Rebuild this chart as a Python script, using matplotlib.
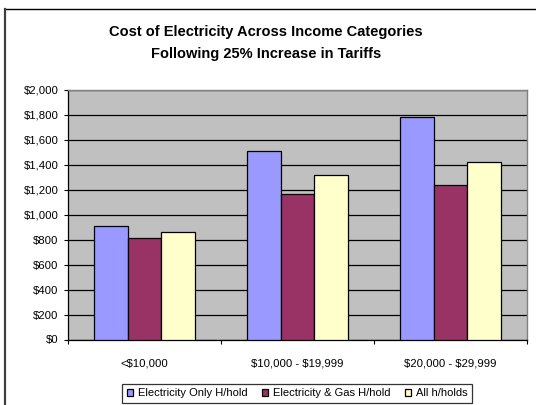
import matplotlib
matplotlib.use("Agg")
import matplotlib.pyplot as plt
import numpy as np
from matplotlib.lines import Line2D
from matplotlib.ticker import FuncFormatter, FixedLocator

plt.rcParams['font.family'] = ['Liberation Sans', 'DejaVu Sans']

categories = ["<$10,000", "$10,000 - $19,999", "$20,000 - $29,999"]
series_names = ["Electricity Only H/hold", "Electricity & Gas H/hold", "All h/holds"]
elec_only = [905, 1512, 1778]
elec_gas = [813, 1166, 1236]
all_holds = [858, 1318, 1420]
colors = ["#9999FF", "#993366", "#FFFFCC"]

W, H = 536, 405
fig = plt.figure(figsize=(W / 100, H / 100), dpi=100)

left, right, top, bottom = 68, 527, 89.7, 339.5
ax = fig.add_axes([left / W, 1 - bottom / H, (right - left) / W, (bottom - top) / H])
ax.set_facecolor("#C0C0C0")

x = np.arange(len(categories))
bw = 0.222
for i, (vals, c, name) in enumerate(zip([elec_only, elec_gas, all_holds], colors, series_names)):
    ax.bar(x + (i - 1) * bw, vals, width=bw, color=c, edgecolor="black", linewidth=0.9,
           label=name, zorder=3)

ax.set_xlim(-0.5, len(categories) - 0.5)
ax.set_ylim(0, 2000)
ax.set_yticks(np.arange(0, 2001, 200))
ax.yaxis.set_major_formatter(FuncFormatter(lambda v, p: "\\${:,.0f}".format(v)))
ax.yaxis.grid(True, color="black", linewidth=0.9, zorder=1)
ax.set_axisbelow(True)

ax.set_xticks(x)
ax.set_xticklabels([c.replace("$", r"\$") for c in categories])
ax.xaxis.set_minor_locator(FixedLocator(np.arange(-0.5, len(categories), 1.0)))
ax.tick_params(axis="x", which="major", length=0, pad=14, labelsize=8.2, colors="black")
ax.tick_params(axis="x", which="minor", length=3, width=0.8, direction="out", color="black")
ax.tick_params(axis="y", which="major", length=3, width=0.8, direction="out", pad=4,
               labelsize=8.2, colors="black")

for s in ["top", "right"]:
    ax.spines[s].set_color("#808080")
    ax.spines[s].set_linewidth(1.0)
for s in ["left", "bottom"]:
    ax.spines[s].set_color("black")
    ax.spines[s].set_linewidth(0.9)

fig.text(266 / W, 1 - 32 / H, "Cost of Electricity Across Income Categories",
         ha="center", va="center", fontsize=10.5, fontweight="bold")
fig.text(266 / W, 1 - 54 / H, "Following 25% Increase in Tariffs",
         ha="center", va="center", fontsize=10.5, fontweight="bold")

leg = fig.legend(loc="center", bbox_to_anchor=(297 / W, 1 - 393.3 / H), ncol=3,
                 fontsize=8, frameon=True, fancybox=False, edgecolor="black",
                 handlelength=0.6, handleheight=0.6, handletextpad=0.4,
                 columnspacing=1.3, borderpad=0.4, borderaxespad=0)
leg.get_frame().set_linewidth(0.9)

# outer chart frame (top and left edges visible)
fig.add_artist(Line2D([5 / W, 1.0], [1 - 9 / H, 1 - 9 / H], transform=fig.transFigure,
                      color="black", linewidth=1.0))
fig.add_artist(Line2D([5 / W, 5 / W], [1 - 9 / H, 0.0], transform=fig.transFigure,
                      color="#404040", linewidth=1.6))

fig.savefig("out.png", dpi=100)
